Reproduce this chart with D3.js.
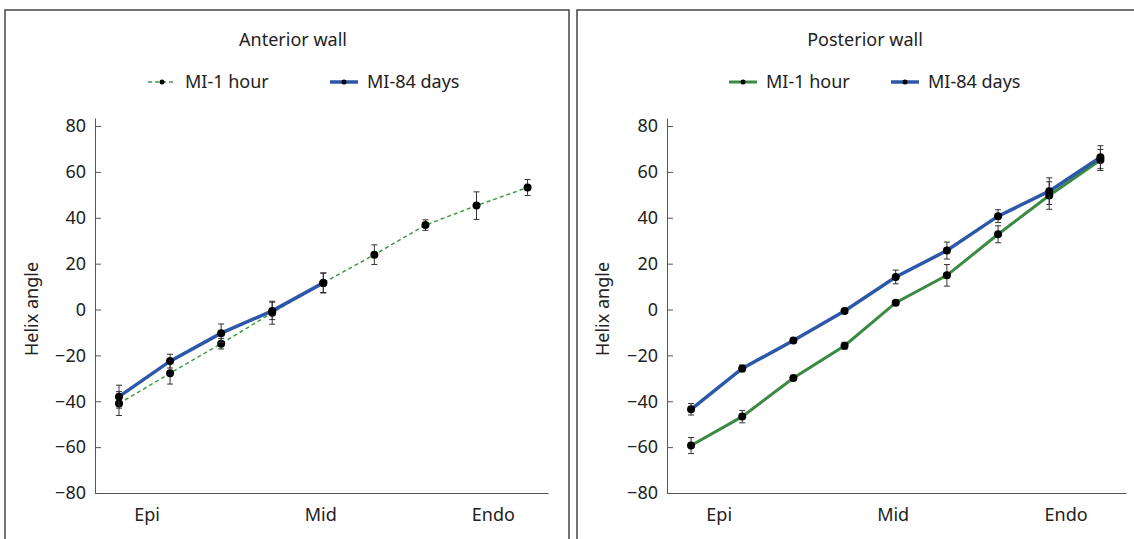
<!DOCTYPE html>
<html>
<head>
<meta charset="utf-8">
<script src="https://cdn.jsdelivr.net/npm/d3@7"></script>
<style>
  body { margin: 0; background: #fff; }
  text { font-family: "Noto Sans", sans-serif; fill: #222; }
</style>
</head>
<body>
<script>
var w = 1134, h = 539;

// layer positions along the wall (0 = epicardium ... 8 = endocardium)
var positions = [0, 1, 2, 3, 4, 5, 6, 7, 8];
var xLabels = ["Epi", "Mid", "Endo"];
var xLabelPos = [0.55, 3.95, 7.33];
var yTicks = [-80, -60, -40, -20, 0, 20, 40, 60, 80];
var seriesNames = ["MI-1 hour", "MI-84 days"];

// Anterior wall
var antHour = [-41, -27.8, -14.9, -1.4, 11.6, 23.9, 36.8, 45.3, 53.2];
var antHourErr = [5.2, 4.7, 2.3, 5, 4.4, 4.3, 2.3, 6, 3.5];
var antDays = [-38, -22.5, -10.3, -0.6, 11.6];
var antDaysErr = [5, 3, 4, 3.8, 4.2];

// Posterior wall
var postHour = [-59.3, -46.7, -29.9, -15.8, 3.0, 14.9, 32.8, 49.7, 65.2];
var postHourErr = [3.5, 2.7, 1, 1.5, 1, 4.7, 3.7, 6, 4.6];
var postDays = [-43.5, -25.7, -13.5, -0.6, 14.2, 25.7, 40.7, 51.6, 66.4];
var postDaysErr = [2.5, 1.5, 1, 0.7, 3, 3.7, 2.8, 5.8, 5];

var svg = d3.select("body")
  .append("svg")
  .attr("width", w)
  .attr("height", h);

function panel(opts){
  var g = svg.append("g");

  // frame
  g.append("rect")
    .attr("x", opts.box[0]).attr("y", 10)
    .attr("width", opts.box[1] - opts.box[0]).attr("height", 540)
    .attr("fill", "none")
    .attr("stroke", "#444")
    .attr("stroke-width", 1.5);

  var x = d3.scaleLinear()
    .domain(opts.xDomain)
    .range(opts.xRange);

  var y = d3.scaleLinear()
    .domain([-80, 83.5])
    .range([493, 118]);

  var yAxis = d3.axisLeft(y)
    .tickValues(yTicks)
    .tickSizeInner(-6)
    .tickSizeOuter(0)
    .tickPadding(9);

  var ya = g.append("g")
    .attr("transform", `translate(${opts.xRange[0]},0)`)
    .call(yAxis);
  ya.selectAll("path, line").attr("stroke", "#555");
  ya.selectAll("text")
    .style("font-family", "'Noto Sans', sans-serif")
    .style("font-size", "18px")
    .attr("fill", "#222");

  var xa = g.append("g")
    .attr("transform", `translate(0,${y(-80)})`)
    .call(d3.axisBottom(x).tickValues([]).tickSizeOuter(0));
  xa.select("path").attr("stroke", "#555");

  g.selectAll("text.xlab")
    .data(xLabels)
    .enter()
    .append("text")
    .attr("class", "xlab")
    .attr("x", (d, i) => x(xLabelPos[i]))
    .attr("y", 521)
    .attr("text-anchor", "middle")
    .attr("font-size", "18px")
    .text(d => d);

  g.append("text")
    .attr("transform", `translate(${opts.yLabelX},309) rotate(-90)`)
    .attr("text-anchor", "middle")
    .attr("font-size", "18px")
    .text("Helix angle");

  g.append("text")
    .attr("x", opts.titleX)
    .attr("y", 46)
    .attr("text-anchor", "middle")
    .attr("font-size", "18px")
    .text(opts.title);

  var line = d3.line()
    .x((d, i) => x(positions[i]))
    .y(d => y(d));

  opts.series.forEach(s => {
    g.append("path")
      .datum(s.values)
      .attr("d", line)
      .attr("fill", "none")
      .attr("stroke", s.color)
      .attr("stroke-width", s.width)
      .attr("stroke-dasharray", s.dash || null);
  });

  opts.series.forEach(s => {
    var eb = g.append("g");
    s.values.forEach((v, i) => {
      var cx = x(positions[i]), e = s.err[i];
      eb.append("line")
        .attr("x1", cx).attr("x2", cx)
        .attr("y1", y(v - e)).attr("y2", y(v + e));
      eb.append("line")
        .attr("x1", cx - 3).attr("x2", cx + 3)
        .attr("y1", y(v - e)).attr("y2", y(v - e));
      eb.append("line")
        .attr("x1", cx - 3).attr("x2", cx + 3)
        .attr("y1", y(v + e)).attr("y2", y(v + e));
    });
    eb.selectAll("line").attr("stroke", "#333").attr("stroke-width", 1);

    g.selectAll(null)
      .data(s.values)
      .enter()
      .append("circle")
      .attr("cx", (d, i) => x(positions[i]))
      .attr("cy", d => y(d))
      .attr("r", 4)
      .attr("fill", "#000");
  });

  // legend
  opts.series.forEach((s, i) => {
    var lx = opts.legendX[i];
    g.append("line")
      .attr("x1", lx).attr("x2", lx + 28)
      .attr("y1", 82).attr("y2", 82)
      .attr("stroke", s.color)
      .attr("stroke-width", s.width)
      .attr("stroke-dasharray", s.dash || null);
    g.append("circle")
      .attr("cx", lx + 14).attr("cy", 82).attr("r", 2.5)
      .attr("fill", "#000");
    g.append("text")
      .attr("x", lx + 37)
      .attr("y", 88)
      .attr("font-size", "18px")
      .text(seriesNames[i]);
  });
}

panel({
  box: [5, 569],
  xDomain: [-0.47, 8.4],
  xRange: [95, 548],
  yLabelX: 38,
  titleX: 293,
  title: "Anterior wall",
  legendX: [148, 330],
  series: [
    { values: antHour, err: antHourErr, color: "#3f9a47", width: 1.5, dash: "4,3" },
    { values: antDays, err: antDaysErr, color: "#2d58a8", width: 3.5 }
  ]
});

panel({
  box: [577, 1140],
  xDomain: [-0.47, 8.5],
  xRange: [667, 1126],
  yLabelX: 609,
  titleX: 865,
  title: "Posterior wall",
  legendX: [729, 891],
  series: [
    { values: postHour, err: postHourErr, color: "#3a8a42", width: 3 },
    { values: postDays, err: postDaysErr, color: "#2d58a8", width: 3.5 }
  ]
});
</script>
</body>
</html>
